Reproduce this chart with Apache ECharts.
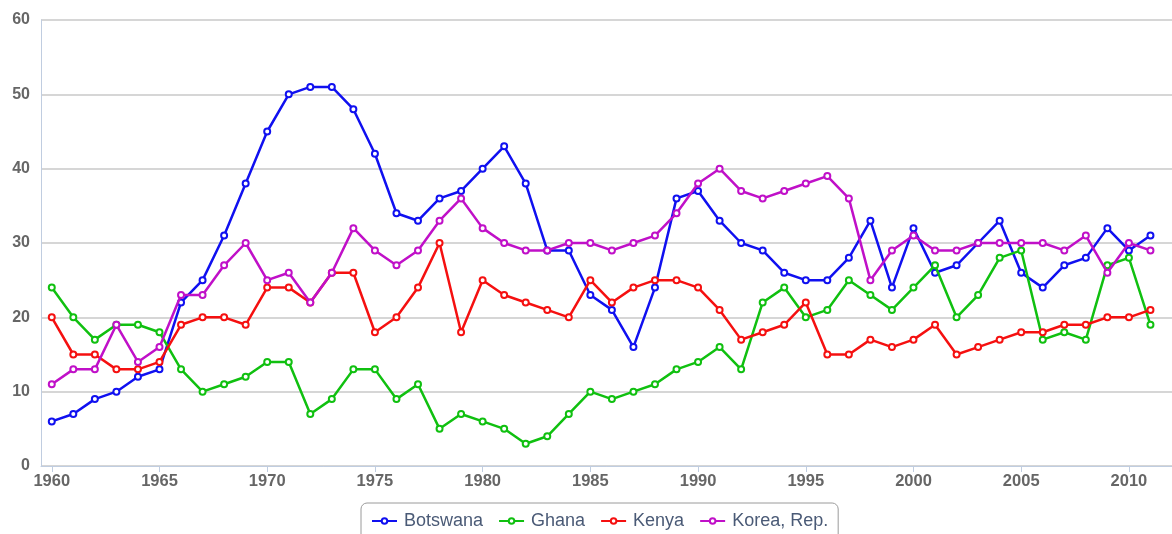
<!DOCTYPE html>
<html><head><meta charset="utf-8">
<script src="https://cdn.jsdelivr.net/npm/echarts@6/dist/echarts.min.js"></script>
<style>html,body{margin:0;padding:0;background:#fff}#c{width:1172px;height:534px}</style>
</head><body><div id="c"></div>
<script>
const years = [];
for (let y = 1960; y <= 2011; y++) years.push(y);
const xTickLabels = [1960,1965,1970,1975,1980,1985,1990,1995,2000,2005,2010];
const seriesNames = ["Botswana","Ghana","Kenya","Korea, Rep."];
const botswana = [6,7,9,10,12,13,22,25,31,38,45,50,51,51,48,42,34,33,36,37,40,43,38,29,29,23,21,16,24,36,37,33,30,29,26,25,25,28,33,24,32,26,27,30,33,26,24,27,28,32,29,31];
const ghana = [24,20,17,19,19,18,13,10,11,12,14,14,7,9,13,13,9,11,5,7,6,5,3,4,7,10,9,10,11,13,14,16,13,22,24,20,21,25,23,21,24,27,20,23,28,29,17,18,17,27,28,19];
const kenya = [20,15,15,13,13,14,19,20,20,19,24,24,22,26,26,18,20,24,30,18,25,23,22,21,20,25,22,24,25,25,24,21,17,18,19,22,15,15,17,16,17,19,15,16,17,18,18,19,19,20,20,21];
const korea = [11,13,13,19,14,16,23,23,27,30,25,26,22,26,32,29,27,29,33,36,32,30,29,29,30,30,29,30,31,34,38,40,37,36,37,38,39,36,25,29,31,29,29,30,30,30,30,29,31,26,30,29];
const colors = ["#1010f0","#10c010","#f51010","#c010c8"];
const allData = [botswana, ghana, kenya, korea];

const chart = echarts.init(document.getElementById('c'));
chart.setOption({
  animation: false,
  color: colors,
  grid: {left: 41, right: 0, top: 20, bottom: 68, containLabel: false},
  legend: {
    top: 503, left: 361,
    data: seriesNames,
    borderColor: '#9a9a9a', borderWidth: 1, borderRadius: 6,
    padding: [9, 10, 12, 10],
    itemWidth: 25, itemHeight: 7, itemGap: 15,
    textStyle: {color: '#4a5a76', fontSize: 18, padding: [0, 0, 0, 2], fontFamily: 'Arial, Liberation Sans, sans-serif'}
  },
  xAxis: {
    type: 'value', min: 1959.5, max: 2012,
    axisLine: {show: true, lineStyle: {color: '#c0cde0', width: 1}},
    axisTick: {show: true, length: 6, lineStyle: {color: '#c0cde0'}, customValues: xTickLabels},
    axisLabel: {customValues: xTickLabels, color: '#666', fontWeight: 'bold', fontSize: 16.5, margin: 7,
      fontFamily: 'Arial, Liberation Sans, sans-serif', formatter: v => String(v)},
    splitLine: {show: false}
  },
  yAxis: {
    type: 'value', min: 0, max: 60, interval: 10,
    axisLine: {show: true, lineStyle: {color: '#c0cde0', width: 1}},
    axisTick: {show: false},
    axisLabel: {color: '#666', fontWeight: 'bold', fontSize: 16, margin: 11,
      fontFamily: 'Arial, Liberation Sans, sans-serif'},
    splitLine: {show: true, lineStyle: {color: '#c8c8c8', width: 1.5}}
  },
  series: seriesNames.map((n, i) => ({
    name: n, type: 'line',
    data: years.map((y, j) => [y, allData[i][j]]),
    symbol: 'emptyCircle', symbolSize: 6,
    lineStyle: {width: 2.5, color: colors[i]},
    itemStyle: {color: colors[i], borderWidth: 2},
    z: 2 + i
  }))
});
</script></body></html>
